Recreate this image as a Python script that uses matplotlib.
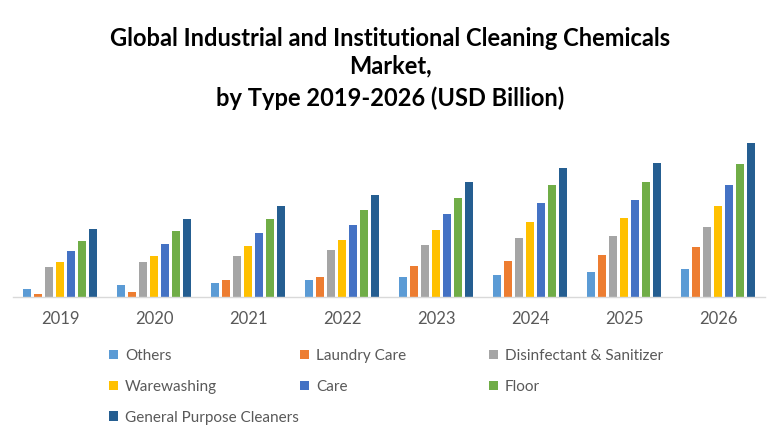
import matplotlib
matplotlib.use("Agg")
import matplotlib.pyplot as plt
from matplotlib.patches import Patch
import numpy as np

plt.rcParams['font.family'] = ['Lato', 'DejaVu Sans']

years = ["2019", "2020", "2021", "2022", "2023", "2024", "2025", "2026"]
others = [0.77, 1.17, 1.40, 1.67, 1.97, 2.17, 2.53, 2.80]
laundry_care = [0.30, 0.53, 1.67, 1.97, 3.10, 3.60, 4.20, 5.00]
disinfectant = [3.00, 3.50, 4.13, 4.67, 5.17, 5.90, 6.13, 7.00]
warewashing = [3.50, 4.13, 5.10, 5.70, 6.67, 7.50, 7.87, 9.10]
care = [4.57, 5.33, 6.37, 7.17, 8.30, 9.37, 9.70, 11.20]
floor = [5.60, 6.57, 7.80, 8.73, 9.90, 11.20, 11.53, 13.30]
general_purpose = [6.77, 7.80, 9.10, 10.23, 11.53, 12.93, 13.37, 15.40]

series_names = ["Others", "Laundry Care", "Disinfectant & Sanitizer", "Warewashing",
                "Care", "Floor", "General Purpose Cleaners"]
series_values = [others, laundry_care, disinfectant, warewashing, care, floor, general_purpose]
colors = ["#5B9BD5", "#ED7D31", "#A5A5A5", "#FFC000", "#4472C4", "#70AD47", "#255E91"]

fig = plt.figure(figsize=(7.8, 4.4), dpi=100)
ax = fig.add_axes([13/780, 1-297/440, 752/780, 167/440])

x = np.arange(len(years))
slot = 11/94
bw = 8.7/94
for j, (name, vals, c) in enumerate(zip(series_names, series_values, colors)):
    ax.bar(x + (j-3)*slot, vals, width=bw, color=c, label=name, zorder=2)

ax.set_xlim(-0.5, len(years)-0.5)
ax.set_ylim(0, 16.7)
ax.set_xticks(x)
ax.set_xticklabels(years, fontsize=12, color="#595959")
ax.tick_params(axis='x', length=0, pad=10)
ax.set_yticks([])
for s in ['top', 'right', 'left']:
    ax.spines[s].set_visible(False)
ax.spines['bottom'].set_color('#D9D9D9')
ax.spines['bottom'].set_linewidth(1.0)

title_kw = dict(ha='center', va='center', fontsize=17, fontweight='bold', color='black')
fig.text(0.5, 1-38/440, "Global Industrial and Institutional Cleaning Chemicals", **title_kw)
fig.text(0.5, 1-66/440, "Market,", **title_kw)
fig.text(0.5, 1-98/440, "by Type 2019-2026 (USD Billion)", **title_kw)

handles = [Patch(facecolor=c, edgecolor='none') for c in colors]
columns = [[0, 3, 6], [1, 4], [2, 5]]
col_x = [109, 300, 489]
for cx, idxs in zip(col_x, columns):
    fig.legend([handles[i] for i in idxs], [series_names[i] for i in idxs],
               loc='upper left', bbox_to_anchor=(cx/780, 1-349/440),
               frameon=False, fontsize=11, labelcolor="#595959",
               handlelength=0.6, handleheight=0.6, handletextpad=0.45,
               labelspacing=1.1, borderpad=0, borderaxespad=0)

fig.savefig("out.png", dpi=100)
